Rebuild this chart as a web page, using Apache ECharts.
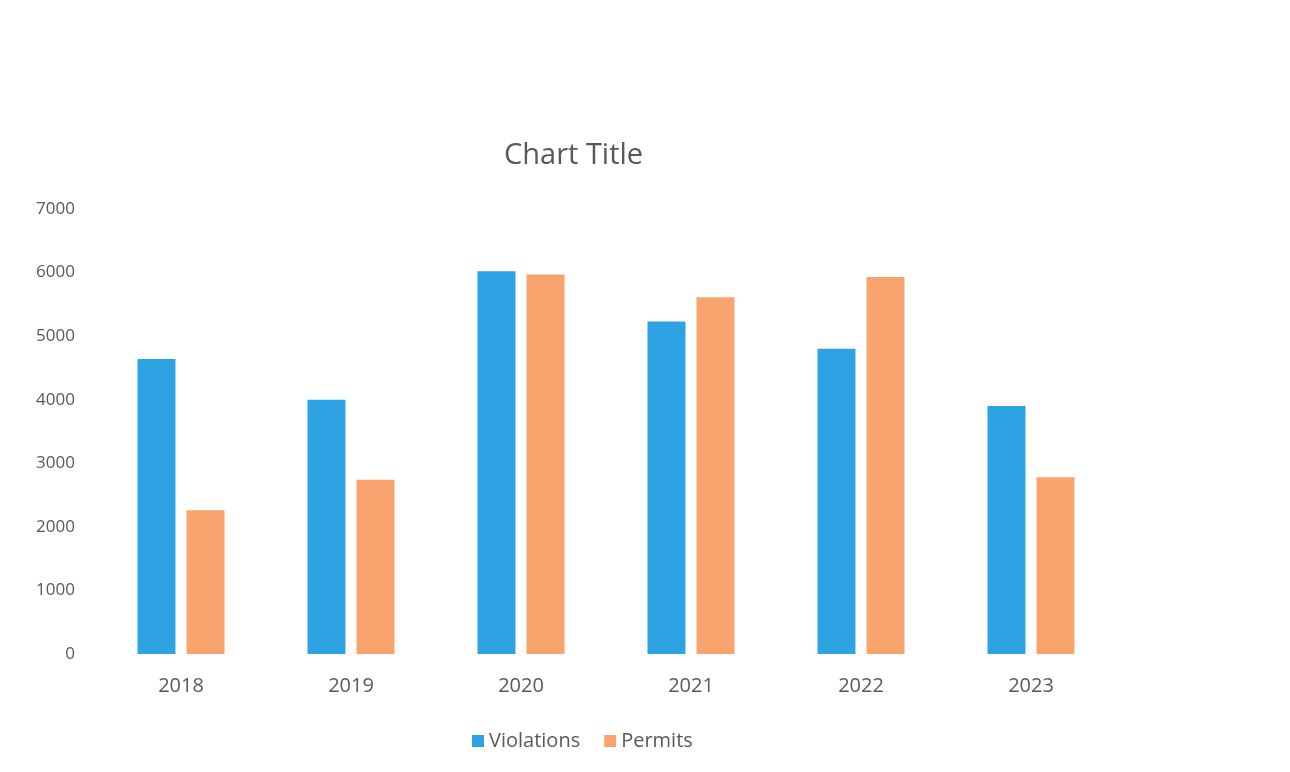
<!DOCTYPE html>
<html>
<head>
<meta charset="utf-8">
<script src="https://cdn.jsdelivr.net/npm/echarts@6/dist/echarts.min.js"></script>
<style>
  html, body { margin: 0; padding: 0; background: #fff; }
  #main { width: 1290px; height: 772px; }
</style>
</head>
<body>
<div id="main"></div>
<script>
    'use strict';
    var years = ['2018', '2019', '2020', '2021', '2022', '2023'];
    var violations = [4640, 4000, 6020, 5230, 4800, 3900];
    var permits = [2260, 2740, 5970, 5610, 5930, 2780];
    var yTicks = [0, 1000, 2000, 3000, 4000, 5000, 6000, 7000];

    var textColor = '#595959';
    var font = '"Open Sans", "Noto Sans", sans-serif';

    var myChart = echarts.init(document.getElementById('main'));
    var option = {
        animation: false,
        title: {
            text: 'Chart Title',
            left: 499,
            top: 136,
            textStyle: {
                color: textColor,
                fontSize: 29,
                fontWeight: 'normal',
                fontFamily: font
            }
        },
        legend: {
            data: ['Violations', 'Permits'],
            left: 467,
            top: 726,
            itemWidth: 12,
            itemHeight: 12,
            itemGap: 24,
            icon: 'rect',
            textStyle: {
                color: textColor,
                fontSize: 20,
                fontFamily: font
            }
        },
        grid: {
            left: 96,
            right: 174,
            top: 209,
            bottom: 118,
            containLabel: false
        },
        xAxis: {
            type: 'category',
            data: years,
            axisLine: { show: false },
            axisTick: { show: false },
            axisLabel: {
                color: textColor,
                fontSize: 20,
                fontFamily: font,
                margin: 22
            }
        },
        yAxis: {
            type: 'value',
            min: yTicks[0],
            max: yTicks[yTicks.length - 1],
            interval: 1000,
            splitLine: { show: false },
            axisLine: { show: false },
            axisTick: { show: false },
            axisLabel: {
                color: textColor,
                fontSize: 17,
                fontFamily: font,
                margin: 21,
                formatter: function (v) { return String(v); }
            }
        },
        series: [
            {
                name: 'Violations',
                type: 'bar',
                data: violations,
                barWidth: 38,
                barGap: '29%',
                itemStyle: { color: '#2EA3E3' }
            },
            {
                name: 'Permits',
                type: 'bar',
                data: permits,
                barWidth: 38,
                itemStyle: { color: '#F9A46E' }
            }
        ]
    };
    myChart.setOption(option);
</script>
</body>
</html>
